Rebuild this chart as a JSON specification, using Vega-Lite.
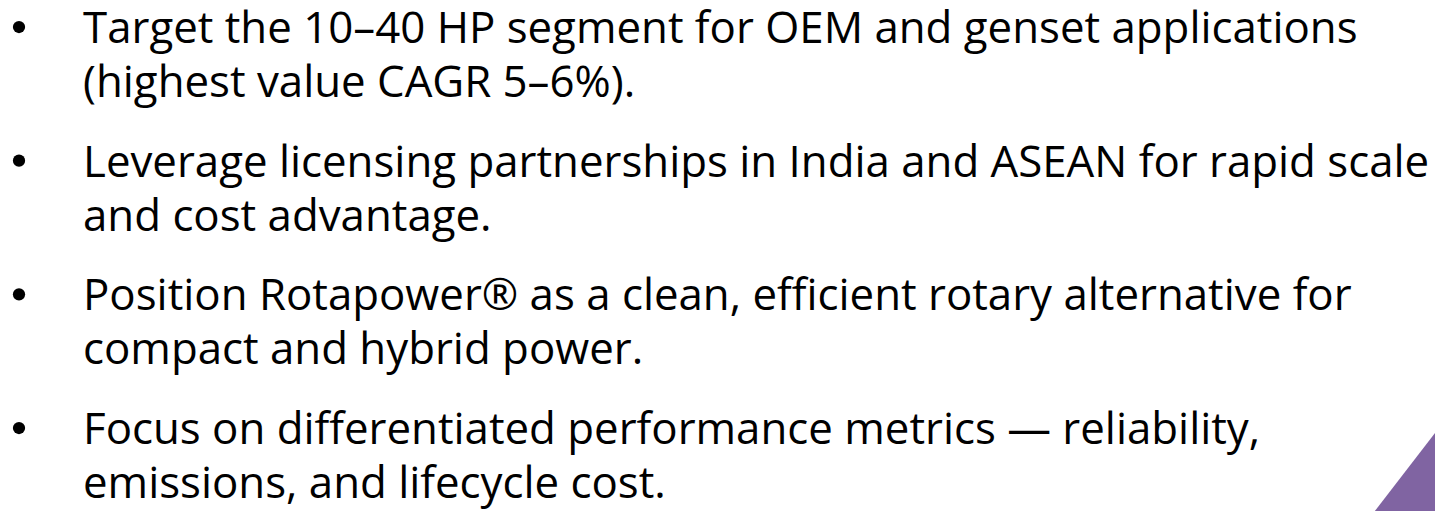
{
  "$schema": "https://vega.github.io/schema/vega-lite/v6.json",
  "width": 1435,
  "height": 511,
  "padding": 0,
  "autosize": {"type": "none"},
  "background": "white",
  "config": {"view": {"stroke": null}},
  "datasets": {
    "bullets": [
      {"item": 1, "text": "Target the 10–40 HP segment for OEM and genset applications\n(highest value CAGR 5–6%)."},
      {"item": 2, "text": "Leverage licensing partnerships in India and ASEAN for rapid scale\nand cost advantage."},
      {"item": 3, "text": "Position Rotapower® as a clean, efficient rotary alternative for\ncompact and hybrid power."},
      {"item": 4, "text": "Focus on differentiated performance metrics — reliability,\nemissions, and lifecycle cost."}
    ],
    "corner": [
      {"cx": 20.86, "top": 4.501},
      {"cx": 21.785, "top": 3.917}
    ]
  },
  "layer": [
    {
      "data": {"name": "corner"},
      "mark": {"type": "area", "color": "#8064A2", "clip": true},
      "encoding": {
        "x": {"field": "cx", "type": "quantitative", "scale": {"domain": [-0.2923, 21.785], "nice": false, "zero": false}, "axis": null},
        "y": {"field": "top", "type": "quantitative", "scale": {"domain": [0.678, 4.501], "nice": false, "zero": false, "reverse": true}, "axis": null},
        "y2": {"datum": 4.501}
      }
    },
    {
      "data": {"name": "bullets"},
      "mark": {"type": "point", "shape": "circle", "filled": true, "size": 150, "color": "black", "opacity": 1, "yOffset": -16},
      "encoding": {
        "x": {"datum": 0, "type": "quantitative"},
        "y": {"field": "item", "type": "quantitative"}
      }
    },
    {
      "data": {"name": "bullets"},
      "mark": {"type": "text", "font": "Open Sans", "fontSize": 43.8, "align": "left", "baseline": "alphabetic", "lineBreak": "\n", "lineHeight": 54, "color": "black"},
      "encoding": {
        "x": {"datum": 0.985, "type": "quantitative"},
        "y": {"field": "item", "type": "quantitative"},
        "text": {"field": "text", "type": "nominal"}
      }
    }
  ]
}
